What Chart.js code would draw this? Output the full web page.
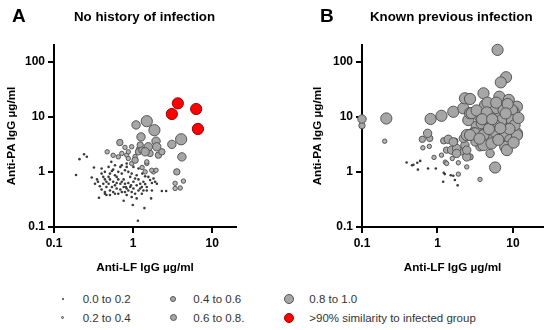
<!DOCTYPE html>
<html>
<head>
<meta charset="utf-8">
<script src="https://cdn.jsdelivr.net/npm/chart.js@4.4.1/dist/chart.umd.min.js"></script>
<style>
  body { margin: 0; width: 550px; height: 330px; background: #fff; position: relative; overflow: hidden;
         font-family: "Liberation Sans", Arial, sans-serif; }
  canvas { position: absolute; top: 0; }
  .tag { position: absolute; font-weight: bold; font-size: 19px; line-height: 19px; color: #000; }
  .title { position: absolute; font-weight: bold; font-size: 13.3px; line-height: 14px; color: #000; white-space: nowrap; }
  .lg { position: absolute; font-size: 11.5px; line-height: 14px; color: #333; white-space: nowrap; }
  .dot { position: absolute; border-radius: 50%; box-sizing: border-box; }
</style>
</head>
<body>
<canvas id="chartA" width="275" height="280" style="left:0"></canvas>
<canvas id="chartB" width="275" height="280" style="left:275px"></canvas>
<div class="tag" style="left:12px;top:6px">A</div>
<div class="title" style="left:74px;top:10px">No history of infection</div>
<div class="tag" style="left:320px;top:6px">B</div>
<div class="title" style="left:370px;top:10px">Known previous infection</div>
<div id="legend"></div>
<script>
// similarity bins (legend order)
const binLabels = ['0.0 to 0.2', '0.2 to 0.4', '0.4 to 0.6', '0.6 to 0.8.', '0.8 to 1.0', '>90% similarity to infected group'];
const xTicks = [0.1, 1, 10];
const yTicks = [0.1, 1, 10, 100];

// panel A: no history of infection, [anti-LF, anti-PA]
const noHist00 = [
  [0.24,2.09],[0.26,1.88],[0.21,1.70],[0.19,0.88],[0.32,1.20],[0.30,0.79],[0.35,0.73],[0.40,0.93],[0.42,0.81],[0.44,0.73],
  [0.46,0.66],[0.49,0.81],[0.51,0.93],[0.54,1.04],[0.56,1.10],[0.59,0.87],[0.62,0.81],[0.65,1.00],[0.69,1.23],[0.72,0.93],
  [0.76,0.73],[0.79,1.07],[0.83,1.23],[0.87,1.00],[0.92,0.81],[0.96,0.93],[1.01,0.66],[1.06,0.76],[1.11,0.87],[1.17,0.73],
  [1.23,0.61],[1.29,0.53],[1.35,0.66],[1.42,0.60],[1.49,0.53],[1.56,0.81],[1.64,0.71],[1.73,0.63],[1.81,0.76],[1.90,0.66],
  [2.00,0.61],[0.46,0.53],[0.51,0.46],[0.54,0.53],[0.56,0.43],[0.62,0.50],[0.65,0.40],[0.69,0.48],[0.76,0.53],[0.79,0.43],
  [0.83,0.38],[0.87,0.46],[0.92,0.53],[0.96,0.43],[1.01,0.50],[1.06,0.40],[1.17,0.46],[1.23,0.50],[1.35,0.46],[0.44,0.43],
  [0.42,0.61],[0.49,0.61],[0.36,0.66],[0.38,0.55],[0.33,0.61],[0.56,0.66],[0.62,0.63],[0.69,0.61],[0.72,0.66],[0.79,0.61],
  [0.87,0.63],[0.37,0.34],[0.76,0.30],[0.99,0.25],[1.39,0.22],[1.15,0.13],[1.69,0.33],[2.31,0.45],[2.62,0.45],[0.49,1.23],
  [0.53,1.52],[0.59,1.32],[0.72,1.32],[0.83,1.42],[1.01,1.23],[1.17,1.15],[1.31,0.93],[1.42,0.83],[1.11,0.57],[0.94,0.57],
  [0.81,0.53],[0.44,1.00],[0.40,1.15],[0.51,0.73],[0.59,0.57],[0.65,0.73],[0.40,0.48],[0.44,0.40],[0.46,0.38],[0.51,0.38],
  [0.59,0.40],[0.72,0.43],[0.83,0.50],[0.96,0.35],[1.29,0.40],[1.49,0.46],[1.11,0.33],[1.73,0.46]
];
const noHist02 = [
  [0.47,2.31],[0.79,2.78],[0.83,2.01],[0.65,1.87],[1.81,1.00],[1.49,1.42],[3.40,0.62],[3.40,0.50],[3.94,0.51],[4.33,0.68],
  [0.87,2.31],[0.96,2.85],[0.72,2.16],[0.87,1.75],[0.96,1.42],[1.49,1.52],[1.42,1.00],[1.72,1.07],[1.95,1.07],[0.56,2.00],
  [1.17,2.60],[1.06,1.90],[1.30,1.20]
];
const noHist04 = [[0.68,3.40],[1.23,3.06],[1.17,2.31],[1.29,2.48],[2.09,2.01],[1.06,1.63],[3.57,1.00],[1.64,2.16],[2.31,2.31]];
const noHist06 = [[1.09,7.10],[1.26,4.30],[1.95,3.60],[3.09,3.15],[4.14,1.87],[1.56,2.85],[1.42,2.31],[1.99,2.85]];
const noHist08 = [[1.49,8.30],[1.86,5.70],[4.05,3.90]];
const noHistRed = [[3.68,17.5],[3.09,11.2],[6.27,13.8],[6.60,6.00]];

// panel B: known previous infection
const prev00 = [
  [0.39,1.48],[0.46,1.32],[0.54,1.46],[0.59,1.58],[0.55,1.10],[0.75,1.15],[0.95,1.15],[1.21,0.96],[1.25,0.91],[1.19,0.66],
  [1.50,0.87],[1.70,0.71],[1.85,0.57],[1.62,0.85],[0.48,1.35]
];
const prev02 = [
  [0.20,3.60],[1.89,0.91],[0.64,2.73],[0.90,1.83],[1.13,2.01],[1.27,1.50],[1.57,1.75],[2.44,1.23],[3.66,0.73],[1.89,1.46],
  [1.32,1.42],[0.78,2.90]
];
const prev04 = [[0.10,6.90],[0.63,3.90],[1.21,3.66],[1.70,3.60],[2.70,1.87],[1.32,2.48],[2.09,2.31],[0.79,4.05]];
const prev06 = [
  [0.10,9.10],[0.74,5.00],[1.39,3.90],[1.54,2.48],[1.79,2.66],[2.31,3.06],[1.62,3.50],[2.44,1.87],[1.79,2.16],[2.20,4.05],
  [2.44,2.48],[3.66,2.85],[4.98,2.16],[3.14,3.50]
];
const prev08 = [
  [0.21,9.30],[0.81,9.10],[1.13,10.4],[1.62,12.3],[2.20,14.2],[2.44,4.65],[2.56,8.70],[6.25,163],[8.10,52.0],[6.90,42.0],
  [2.31,21.6],[2.70,21.0],[4.07,26.6],[6.60,23.1],[8.80,20.2],[11.3,15.2],[4.27,16.3],[5.50,14.2],[7.10,14.2],[2.70,11.6],
  [3.66,10.0],[4.74,10.0],[6.40,10.0],[8.80,10.4],[10.2,12.3],[4.07,7.60],[5.50,7.05],[7.50,7.60],[9.70,8.10],[3.31,6.60],
  [2.99,5.00],[4.27,5.00],[6.10,5.20],[8.30,5.00],[11.3,5.00],[5.20,4.65],[7.10,4.65],[5.80,14.2],[7.50,13.2],[9.70,13.2],
  [2.84,11.6],[4.98,10.0],[7.10,8.70],[9.70,8.70],[3.86,7.60],[5.80,7.05],[3.14,5.00],[4.07,4.65],[5.80,5.30],[7.50,4.65],
  [9.20,3.80],[7.90,2.85],[4.07,3.06],[5.20,3.28],[6.40,3.80],[8.30,2.48],[5.80,1.20],[11.3,4.65],[2.70,4.65],[4.60,18.0],
  [3.30,13.0],[6.00,18.0],[8.50,17.0],[10.5,7.00],[11.8,9.50],[9.00,6.00],[6.80,6.20],[4.80,6.00],[3.60,4.00],[10.2,3.40],
  [4.50,12.0],[3.90,9.00],[5.30,9.00],[8.00,11.5]
];
const prevRed = [];

const binStyles = [
  { r: 1.3, fill: '#3a3a3a', line: '#3a3a3a', w: 0 },
  { r: 2.2, fill: '#b5b5b5', line: '#555555', w: 1 },
  { r: 3.2, fill: '#a8a8a8', line: '#555555', w: 1 },
  { r: 4.2, fill: '#a6a6a6', line: '#555555', w: 1 },
  { r: 5.6, fill: '#a6a6a6', line: '#555555', w: 1 },
  { r: 5.6, fill: '#ff0000', line: '#a00000', w: 1 }
];

function makeDatasets(groups) {
  return groups.map((pts, i) => ({
    label: binLabels[i],
    data: pts.map(([x, y]) => ({ x, y })),
    pointRadius: binStyles[i].r,
    pointBackgroundColor: binStyles[i].fill,
    pointBorderColor: binStyles[i].line,
    pointBorderWidth: binStyles[i].w,
    order: groups.length - i,
    clip: false
  }));
}

function logAxis(max, ticks, title, titlePad, fit) {
  return {
    type: 'logarithmic',
    min: 0.1,
    max,
    afterBuildTicks: s => { s.ticks = ticks.map(v => ({ value: v })); },
    afterFit: fit,
    ticks: {
      callback: v => String(v),
      font: { family: 'Liberation Sans', size: 12, weight: 'bold' },
      color: '#000',
      padding: 3,
      autoSkip: false,
      maxRotation: 0
    },
    grid: { display: true, drawOnChartArea: false, drawTicks: true, tickLength: 6, lineWidth: 2, color: '#000' },
    border: { display: true, width: 2, color: '#000' },
    title: {
      display: true,
      text: title,
      color: '#000',
      font: { family: 'Liberation Sans', size: 11.7, weight: 'bold' },
      padding: titlePad
    }
  };
}

function makeChart(id, groups, xMax, yWidth, padRight, yTitlePad) {
  return new Chart(document.getElementById(id), {
    type: 'scatter',
    data: { datasets: makeDatasets(groups) },
    options: {
      responsive: false,
      animation: false,
      events: [],
      layout: { padding: { top: 45, right: padRight, left: 0, bottom: 0 } },
      plugins: { legend: { display: false }, tooltip: { enabled: false } },
      scales: {
        x: logAxis(xMax, xTicks, 'Anti-LF IgG µg/ml', { top: 0, bottom: 5 }, s => { s.height = 53; }),
        y: logAxis(200, yTicks, 'Anti-PA IgG µg/ml', { top: yTitlePad, bottom: 0 }, s => { s.width = yWidth; })
      }
    }
  });
}

makeChart('chartA', [noHist00, noHist02, noHist04, noHist06, noHist08, noHistRed], 20, 54, 39, 5);
makeChart('chartB', [prev00, prev02, prev04, prev06, prev08, prevRed], 25, 87, 7, 36);

// legend, two rows by three columns
const legendPos = [
  { cx: 62.7, cy: 299 }, { cx: 62.7, cy: 317.7 },
  { cx: 173.3, cy: 299 }, { cx: 173.3, cy: 317.7 },
  { cx: 289.3, cy: 299 }, { cx: 289.3, cy: 317.7 }
];
const legendR = [1, 1.8, 3.2, 3.8, 5, 5];
const legend = document.getElementById('legend');
binLabels.forEach((lab, i) => {
  const p = legendPos[i], st = binStyles[i], r = legendR[i];
  const d = document.createElement('div');
  d.className = 'dot';
  d.style.cssText = `left:${p.cx - r}px;top:${p.cy - r}px;width:${2 * r}px;height:${2 * r}px;` +
    `background:${st.fill};border:${st.w}px solid ${st.line};`;
  legend.appendChild(d);
  const t = document.createElement('div');
  t.className = 'lg';
  t.textContent = lab;
  t.style.left = (p.cx + 20) + 'px';
  t.style.top = (p.cy - 7) + 'px';
  legend.appendChild(t);
});
</script>
</body>
</html>
